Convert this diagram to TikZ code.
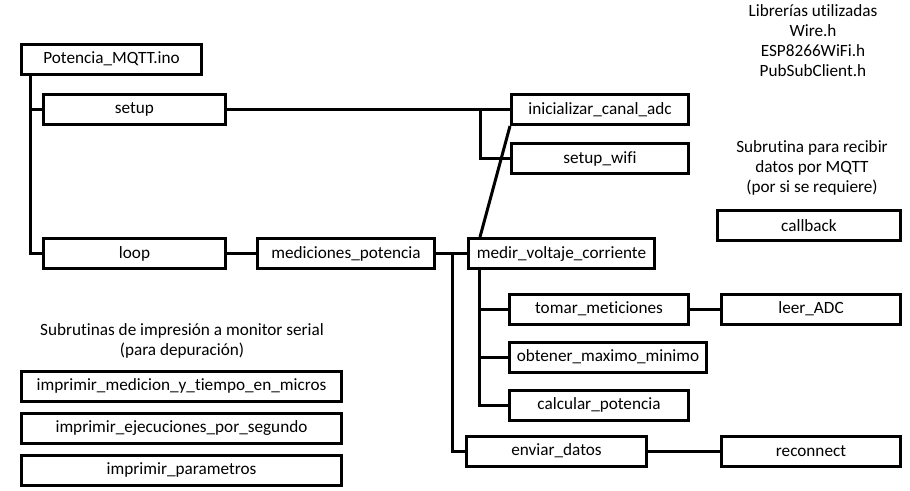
\documentclass[tikz,border=0pt]{standalone}
\usepackage{fontspec}
\setmainfont{Carlito}[Ligatures=NoCommon]
\usetikzlibrary{calc}

\begin{document}
\begin{tikzpicture}[x=0.75pt,y=-0.75pt,
  font=\fontsize{12.9}{15.2}\selectfont,
  caja/.style={draw, line width=2.25pt, minimum width=#1, minimum height=22.5pt, inner sep=0pt},
  linea/.style={line width=2.25pt},
  nota/.style={align=center, inner sep=0pt}]
  \useasboundingbox (0,0) rectangle (910,490);

  % programa principal
  \node[caja=135pt] (ino) at (111.5,59) {Potencia\_MQTT.ino};
  \node[caja=136.5pt] (setup) at (134.5,109.5) {setup};
  \node[caja=136.5pt] (loop) at (134.5,253.5) {loop};
  \node[caja=132.75pt] (mediciones) at (346,253.5) {mediciones\_potencia};
  \node[caja=132.75pt] (inicializar) at (600,109.5) {inicializar\_canal\_adc};
  \node[caja=132.75pt] (wifi) at (600,158.5) {setup\_wifi};
  \node[caja=139.5pt] (medir) at (561.5,253.5) {medir\_voltaje\_corriente};
  \node[caja=134.25pt] (tomar) at (599,309) {tomar\_meticiones};
  \node[caja=147.75pt] (obtener) at (608,357) {obtener\_maximo\_minimo};
  \node[caja=134.25pt] (calcular) at (599,405) {calcular\_potencia};
  \node[caja=135pt] (enviar) at (556.5,451) {enviar\_datos};
  \node[caja=134.25pt] (leer) at (811,309) {leer\_ADC};
  \node[caja=134.25pt] (reconnect) at (811,451) {reconnect};

  % conexiones
  \draw[linea] ($(ino.south west)+(10,0)$) |- (setup.west);
  \draw[linea] ($(ino.south west)+(10,0)$) |- (loop.west);
  \draw[linea] (setup.east) -- (inicializar.west);
  \draw[linea] ($(inicializar.west)+(-30,0)$) |- (wifi.west);
  \draw[linea] (inicializar.south west) -- ($(medir.north west)+(13,0)$);
  \draw[linea] (loop.east) -- (mediciones.west);
  \draw[linea] (mediciones.east) -- (medir.west);
  \draw[linea] ($(medir.west)+(-15,0)$) |- (enviar.west);
  \foreach \hijo in {tomar, obtener, calcular}
    \draw[linea] ($(medir.south west)+(12,0)$) |- (\hijo.west);
  \draw[linea] (tomar.east) -- (leer.west);
  \draw[linea] (enviar.east) -- (reconnect.west);

  % notas
  \node[nota] (librerias) at (813,40.5) {Librerías utilizadas\\Wire.h\\ESP8266WiFi.h\\PubSubClient.h};
  \node[nota] (nota_mqtt) at (812,168) {Subrutina para recibir\\datos por MQTT\\(por si se requiere)};
  \node[caja=137.25pt] (callback) at (809,225.5) {callback};
  \node[nota] (nota_serial) at (182,341) {Subrutinas de impresión a monitor serial\\(para depuración)};
  \foreach \nombre [count=\i] in {imprimir\_medicion\_y\_tiempo\_en\_micros, imprimir\_ejecuciones\_por\_segundo, imprimir\_parametros}
    \node[caja=240pt] (imp\i) at (181.5,386+42*\i-42) {\nombre};
\end{tikzpicture}
\end{document}
